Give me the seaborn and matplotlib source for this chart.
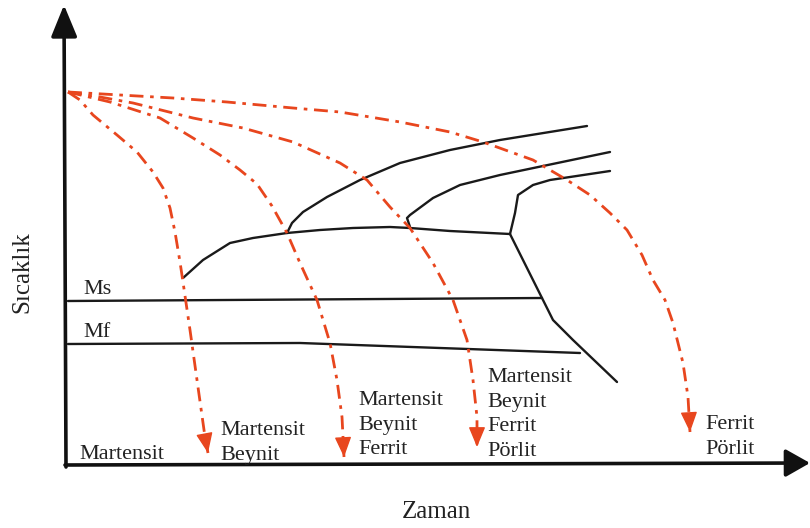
import numpy as np
import pandas as pd
import matplotlib
matplotlib.use("Agg")
import matplotlib.pyplot as plt
import seaborn as sns

# ---- data (schematic coordinates in image space: x = time, y = depth from top) ----
cool1_x = [68, 80, 93, 117, 137, 153, 163, 170, 175, 180, 183, 190, 197, 205, 208]
cool1_y = [92, 100, 115, 135, 152, 172, 188, 208, 232, 262, 282, 330, 380, 437, 453]

cool2_x = [68, 110, 160, 193, 220, 240, 257, 272, 287, 300, 317, 330, 337, 342, 344]
cool2_y = [92, 102, 118, 138, 155, 170, 184, 206, 233, 263, 300, 343, 380, 417, 457]

cool3_x = [68, 100, 133, 193, 243, 293, 340, 367, 390, 410, 433, 453, 467, 473, 477, 477]
cool3_y = [92, 97, 103, 118, 128, 142, 163, 180, 207, 228, 263, 300, 340, 380, 417, 447]

cool4_x = [68, 120, 173, 227, 293, 340, 400, 450, 483, 533, 567, 590, 610, 627, 642, 653, 665, 673, 683, 688, 690]
cool4_y = [92, 95, 98, 102, 108, 112, 122, 132, 142, 160, 180, 195, 213, 230, 255, 280, 300, 323, 363, 397, 432]

bs_x = [183, 203, 230, 253, 287, 320, 353, 390, 410, 450, 510]
bs_y = [278, 260, 243, 238, 233, 230, 228, 227, 228, 231, 234]

br1_x = [287, 292, 303, 327, 360, 400, 450, 500, 587]
br1_y = [233, 223, 212, 197, 180, 163, 150, 140, 126]

br2_x = [410, 407, 410, 433, 460, 500, 610]
br2_y = [227, 218, 215, 198, 185, 175, 152]

br3_x = [510, 515, 518, 533, 550, 610]
br3_y = [234, 213, 195, 185, 180, 171]

low_x = [510, 542, 553, 573, 617]
low_y = [234, 298, 320, 340, 382]

ms_x = [68, 542]
ms_y = [301, 298]

mf_x = [68, 300, 580]
mf_y = [344, 343, 353]

phase_labels = [
    ["Martensit"],
    ["Martensit", "Beynit"],
    ["Martensit", "Beynit", "Ferrit"],
    ["Martensit", "Beynit", "Ferrit", "Pörlit"],
    ["Ferrit", "Pörlit"],
]
label_left = [79, 220, 358, 487, 705]
label_first_center = [452, 428, 398, 375, 422]

x_label = "Zaman"
y_label = "Sıcaklık"

# ---- style ----
sns.set_theme(style="white")
plt.rcParams["font.family"] = ["Liberation Serif", "DejaVu Serif"]

RED = "#e8461e"
DASHDOT = (0, (5.0, 2.4, 1.3, 2.4))

fig = plt.figure(figsize=(8.1, 5.28), dpi=100)
ax = fig.add_axes([0, 0, 1, 1])
ax.set_xlim(0, 810)
ax.set_ylim(528, 0)
ax.axis("off")


def draw(xs, ys, **kw):
    df = pd.DataFrame({"x": xs, "y": ys})
    sns.lineplot(data=df, x="x", y="y", sort=False, estimator=None, ax=ax, **kw)


# black transformation curves
for xs, ys in [(bs_x, bs_y), (br1_x, br1_y), (br2_x, br2_y), (br3_x, br3_y),
               (low_x, low_y), (ms_x, ms_y), (mf_x, mf_y)]:
    draw(xs, ys, color="#1a1a1a", linewidth=1.7, solid_joinstyle="round")

# red cooling curves with arrowheads
for xs, ys in [(cool1_x, cool1_y), (cool2_x, cool2_y), (cool3_x, cool3_y), (cool4_x, cool4_y)]:
    draw(xs, ys, color=RED, linewidth=2.0, linestyle=DASHDOT)
    tip = np.array([xs[-1], ys[-1]], float)
    prev = np.array([xs[-2], ys[-2]], float)
    d = (tip - prev) / np.linalg.norm(tip - prev)
    start = tip - 17 * d
    ax.annotate("", xy=tuple(tip), xytext=tuple(start),
                arrowprops=dict(arrowstyle="-|>,head_length=1.25,head_width=0.52",
                                mutation_scale=10, color=RED, lw=1.0,
                                shrinkA=0, shrinkB=0))

# axes with arrows
ax.annotate("", xy=(64, 5), xytext=(66, 467),
            arrowprops=dict(arrowstyle="-|>,head_length=1.95,head_width=0.8",
                            mutation_scale=10, color="#111111", lw=2.6,
                            shrinkA=0, shrinkB=0), annotation_clip=False)
ax.annotate("", xy=(810, 463), xytext=(65, 465),
            arrowprops=dict(arrowstyle="-|>,head_length=1.5,head_width=0.85",
                            mutation_scale=10, color="#111111", lw=2.6,
                            shrinkA=0, shrinkB=0), annotation_clip=False)

# Ms / Mf labels
ax.text(83, 287 + 7, "Ms", fontsize=16, color="#222222", va="baseline", ha="left")
ax.text(83, 330 + 7, "Mf", fontsize=16, color="#222222", va="baseline", ha="left")

# phase labels
for lines, x0, y0 in zip(phase_labels, label_left, label_first_center):
    for i, t in enumerate(lines):
        ax.text(x0, y0 + i * 24.7 + 7, t, fontsize=16, color="#222222",
                va="baseline", ha="left")

# axis titles
ax.text(436, 518, x_label, fontsize=18, color="#222222", ha="center", va="baseline")
ax.text(22, 272, y_label, fontsize=18, color="#222222", ha="center", va="center",
        rotation=90)

fig.savefig("out.png", dpi=100)
